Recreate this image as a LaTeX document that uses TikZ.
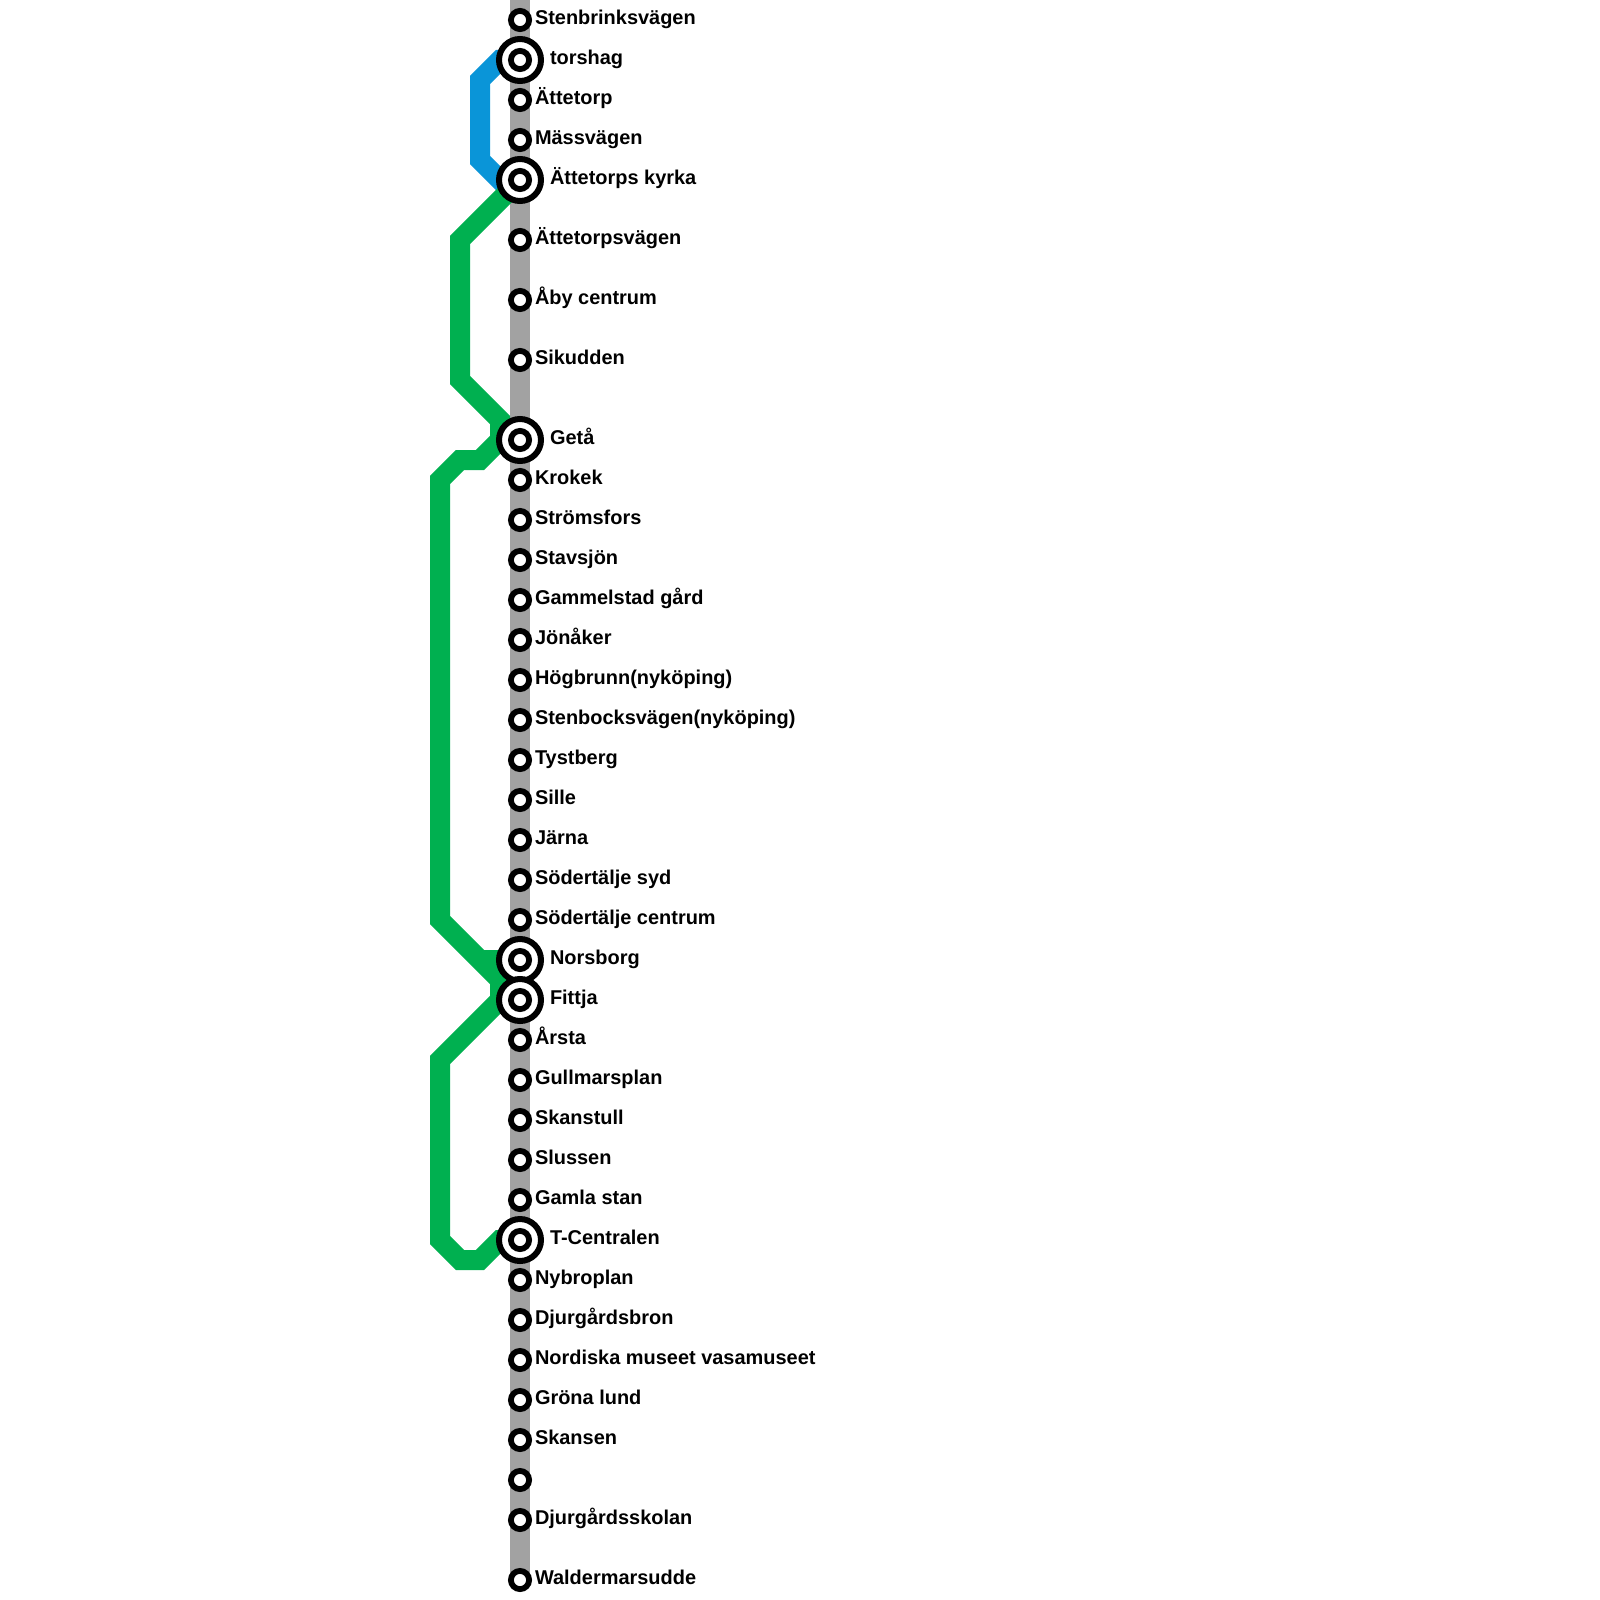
\documentclass[tikz,border=0pt]{standalone}
\usepackage{fontspec}
\setmainfont{Liberation Sans}
\pgfdeclarelayer{lines}
\pgfsetlayers{lines,main}
\definecolor{greyline}{HTML}{A2A2A2}
\definecolor{blueline}{HTML}{0A95D8}
\definecolor{greenline}{HTML}{00B050}
\tikzset{
  x=1pt,y=-1pt,
  stop/.style={circle,draw=black,fill=white,line width=5.8pt,minimum size=18.2pt,inner sep=0pt,outer sep=0pt},
  hub/.style={circle,draw=black,fill=white,line width=6pt,minimum size=42pt,inner sep=0pt,outer sep=0pt},
  lab/.style={anchor=base west,inner sep=0pt,outer sep=0pt,font=\bfseries\fontsize{19.95}{24}\selectfont,text=black},
  route/.style={line width=20pt,line join=miter,line cap=butt},
}
\begin{document}
\begin{tikzpicture}
\useasboundingbox (0,0) rectangle (1600,1600);
% ordinary stops
\foreach \n/\py/\t in {
 s1/20/{Stenbrinksvägen},s3/100/{Ättetorp},s4/140/{Mässvägen},s6/240/{Ättetorpsvägen},
 s7/300/{Åby centrum},s8/360/{Sikudden},s10/480/{Krokek},s11/520/{Strömsfors},
 s12/560/{Stavsjön},s13/600/{Gammelstad gård},s14/640/{Jönåker},s15/680/{Högbrunn(nyköping)},
 s16/720/{Stenbocksvägen(nyköping)},s17/760/{Tystberg},s18/800/{Sille},s19/840/{Järna},
 s20/880/{Södertälje syd},s21/920/{Södertälje centrum},s24/1040/{Årsta},s25/1080/{Gullmarsplan},
 s26/1120/{Skanstull},s27/1160/{Slussen},s28/1200/{Gamla stan},s30/1280/{Nybroplan},
 s31/1320/{Djurgårdsbron},s32/1360/{Nordiska museet vasamuseet},s33/1400/{Gröna lund},
 s34/1440/{Skansen},s36/1520/{Djurgårdsskolan},s37/1580/{Waldermarsudde}}{
  \node[stop] (\n) at (520,\py) {};
  \node[lab] (\n-label) at (535,\py+4.7) {\t};
}
\node[stop] (s35) at (520,1480) {};
% interchange stations
\foreach \n/\py/\t in {
 torshag/60/{torshag},kyrka/180/{Ättetorps kyrka},geta/440/{Getå},
 norsborg/960/{Norsborg},fittja/1000/{Fittja},tcentralen/1240/{T-Centralen}}{
  \node[hub] (\n) at (520,\py) {};
  \node[stop] (\n-inner) at (520,\py) {};
  \node[lab] (\n-label) at (550,\py+4.7) {\t};
}
\coordinate (top) at (520,0);
\begin{pgfonlayer}{lines}
\draw[route,greyline] (top) -- (s37.center);
\draw[route,blueline] (torshag.center) -- (500,60) -- (480,80) -- (480,160) -- (500,180) -- (kyrka.center);
\draw[route,greenline] (kyrka.center) -- (460,240) -- (460,380) -- (500,420) -- (500,440)
   -- (480,460) -- (460,460) -- (440,480) -- (440,920) -- (500,980) -- (500,1000)
   -- (440,1060) -- (440,1240) -- (460,1260) -- (480,1260) -- (500,1240) -- (tcentralen.center);
\draw[route,greenline] (norsborg.center) -- (480,960);
\end{pgfonlayer}
\end{tikzpicture}
\end{document}
